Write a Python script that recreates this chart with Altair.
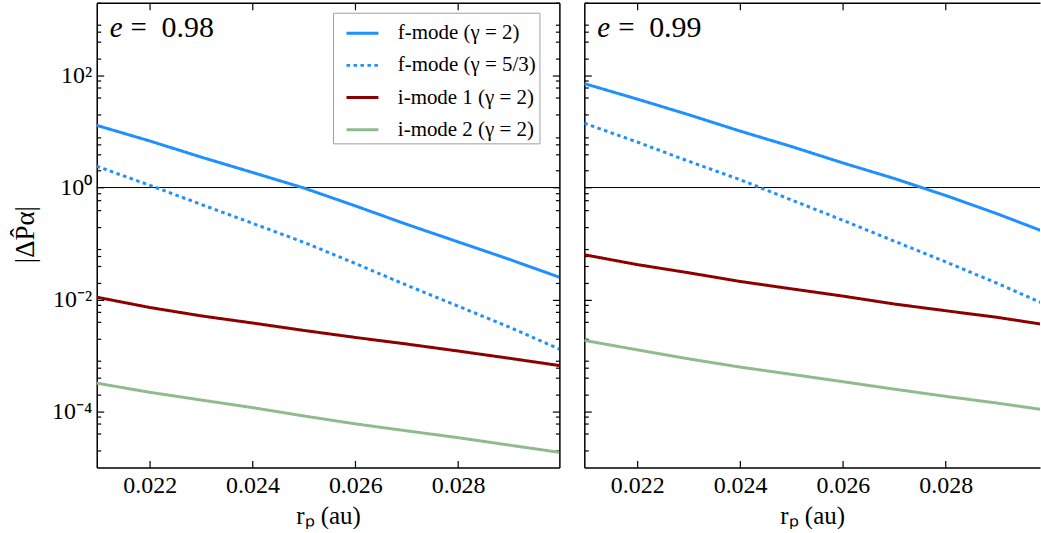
import altair as alt
import pandas as pd

FONT = "Liberation Serif"

# ---------------- data ----------------
r_p = [0.02097, 0.022, 0.023, 0.024, 0.025, 0.026, 0.027, 0.028, 0.029, 0.02997]

series_names = ["f-mode (γ = 2)", "f-mode (γ = 5/3)", "i-mode 1 (γ = 2)", "i-mode 2 (γ = 2)"]
series_colors = ["#1e90ff", "#1e90ff", "#8b0000", "#8fbc8f"]
series_dashes = [[1, 0], [3.5, 3.5], [1, 0], [1, 0]]

# e = 0.98 panel
e098_f2 = [12.9, 6.8, 3.5, 1.86, 0.98, 0.47, 0.22, 0.107, 0.052, 0.025]
e098_f53 = [2.4, 1.10, 0.50, 0.23, 0.105, 0.044, 0.018, 0.0076, 0.0032, 0.0013]
e098_i1 = [0.011, 0.0072, 0.0051, 0.0038, 0.0028, 0.0021, 0.0016, 0.0012, 0.00089, 0.00066]
e098_i2 = [3.2e-4, 2.2e-4, 1.6e-4, 1.17e-4, 8.3e-5, 6.0e-5, 4.5e-5, 3.4e-5, 2.5e-5, 1.86e-5]

# e = 0.99 panel
e099_f2 = [72, 38, 20, 10.2, 5.4, 2.75, 1.45, 0.72, 0.34, 0.155]
e099_f53 = [14.1, 6.5, 2.95, 1.38, 0.60, 0.26, 0.110, 0.047, 0.0195, 0.0079]
e099_i1 = [0.063, 0.042, 0.030, 0.021, 0.0155, 0.0115, 0.0083, 0.0063, 0.0048, 0.0035]
e099_i2 = [1.86e-3, 1.26e-3, 8.7e-4, 6.2e-4, 4.6e-4, 3.4e-4, 2.5e-4, 1.86e-4, 1.41e-4, 1.05e-4]

panel_e = ["0.98", "0.99"]
ref_level = [1.0]

x_tick_values = [0.022, 0.024, 0.026, 0.028]
y_major_values = [1e-4, 1e-2, 1.0, 1e2]
y_major_labels = ["10⁻⁴", "10⁻²", "10⁰", "10²"]
y_major_exps = [-4, -2, 0, 2]
y_minor_values = [m * 10.0 ** k for k in range(-5, 4) for m in (2, 4, 6, 8)
                  if 1e-5 <= m * 10.0 ** k <= 2e3]

Y_DOMAIN = [1e-5, 2e3]
X_MIN = 0.02097
X_MAX_LEFT = 0.02997
X_MAX_RIGHT = 0.029834
PANEL_H = 466
LEFT_W = 464
RIGHT_W = 457


def long_frame(cols):
    rows = []
    for name, vals in zip(series_names, cols):
        for r, v in zip(r_p, vals):
            rows.append({"r": r, "val": v, "series": name})
    return pd.DataFrame(rows)


def neg(n):
    return alt.ExprRef(expr=str(-n))


label_expr = " : ".join(
    f"abs(log(datum.value)/LN10 - ({e})) < 0.01 ? '{lab}'"
    for e, lab in zip(y_major_exps, y_major_labels)
) + " : ''"

AX = dict(labelFont=FONT, titleFont=FONT, labelColor="black", titleColor="black",
          domainColor="black", tickColor="black", grid=False)


def text_layer(s, x, size=29, italic=False):
    kw = dict(font=FONT, fontSize=size, align="left", baseline="alphabetic", color="black")
    if italic:
        kw["fontStyle"] = "italic"
    return alt.Chart(pd.DataFrame({"t": [s]})).mark_text(**kw).encode(
        x=alt.value(x), y=alt.value(34), text="t:N"
    )


def panel(df, e_text, width, xmax, first):
    xs = alt.Scale(domain=[X_MIN, xmax], nice=False, zero=False)
    ys = alt.Scale(type="log", domain=Y_DOMAIN, nice=False)
    cs = alt.Scale(domain=series_names, range=series_colors)
    ds = alt.Scale(domain=series_names, range=series_dashes)

    if first:
        leg = alt.Legend(
            orient="none", legendX=237, legendY=10, title=None,
            symbolType="stroke", symbolSize=1024, symbolStrokeWidth=3,
            labelFont=FONT, labelFontSize=21, labelColor="black",
            strokeColor="#a0a0a0", fillColor="white", padding=3,
            rowPadding=4.3, labelOffset=18, symbolOffset=9,
        )
        color_enc = alt.Color("series:N", scale=cs, legend=leg)
        dash_enc = alt.StrokeDash("series:N", scale=ds, legend=leg)
        y_axis = alt.Axis(
            orient="left", values=y_major_values, labelExpr=label_expr,
            tickSize=neg(7), labelPadding=12, labelFontSize=24,
            title="|ΔP\u0302α|", titleFontSize=27, titleAngle=270,
            titleX=-71, titleY=PANEL_H / 2 - 1, titleBaseline="middle",
            titleAlign="center", titleFontWeight="normal", **AX,
        )
    else:
        color_enc = alt.Color("series:N", scale=cs, legend=None)
        dash_enc = alt.StrokeDash("series:N", scale=ds, legend=None)
        y_axis = alt.Axis(orient="left", values=y_major_values, labels=False,
                          tickSize=neg(7), title=None, **AX)

    x_axis = alt.Axis(
        orient="bottom", values=x_tick_values, format=".3f", tickSize=neg(7),
        labelPadding=13, labelFontSize=24, title="rₚ (au)", titleFontSize=25,
        titleY=48, titleBaseline="middle", titleFontWeight="normal", **AX,
    )

    hline = alt.Chart(pd.DataFrame({"level": ref_level})).mark_rule(
        color="black", strokeWidth=1
    ).encode(y=alt.Y("level:Q", scale=ys, axis=None))

    lines = alt.Chart(df).mark_line(strokeWidth=3, clip=True).encode(
        x=alt.X("r:Q", scale=xs, axis=x_axis),
        y=alt.Y("val:Q", scale=ys, axis=y_axis),
        color=color_enc,
        strokeDash=dash_enc,
    )

    top_axis = alt.Axis(orient="top", values=x_tick_values, labels=False,
                        tickSize=neg(7), title=None, **AX)
    if first:
        right_axis = alt.Axis(orient="right", values=y_major_values, labels=False,
                              tickSize=neg(7), title=None, **AX)
        guide_y = alt.Y("val:Q", scale=ys, axis=right_axis)
    else:
        guide_y = alt.Y("val:Q", scale=ys, axis=None)
    guides = alt.Chart(df).mark_line(opacity=0, clip=True).encode(
        x=alt.X("r:Q", scale=xs, axis=top_axis), y=guide_y, detail="series:N"
    )

    minor_left = alt.Chart(df).mark_line(opacity=0, clip=True).encode(
        x=alt.X("r:Q", scale=xs, axis=None),
        y=alt.Y("val:Q", scale=ys, axis=alt.Axis(
            orient="left", values=y_minor_values, labels=False, domain=False,
            tickSize=neg(4), title=None, **AX)),
        detail="series:N",
    )
    layers = [hline, lines, guides, minor_left]
    if first:
        minor_right = alt.Chart(df).mark_line(opacity=0, clip=True).encode(
            x=alt.X("r:Q", scale=xs, axis=None),
            y=alt.Y("val:Q", scale=ys, axis=alt.Axis(
                orient="right", values=y_minor_values, labels=False, domain=False,
                tickSize=neg(4), title=None, **AX)),
            detail="series:N",
        )
        layers.append(minor_right)

    layers += [text_layer("e", 13, italic=True), text_layer("=", 34),
               text_layer(e_text, 65, size=30)]

    return alt.layer(*layers).resolve_axis(x="independent", y="independent").properties(
        width=width, height=PANEL_H
    )


left = panel(long_frame([e098_f2, e098_f53, e098_i1, e098_i2]), panel_e[0], LEFT_W, X_MAX_LEFT, True)
right = panel(long_frame([e099_f2, e099_f53, e099_i1, e099_i2]), panel_e[1], RIGHT_W, X_MAX_RIGHT, False)

chart = alt.hconcat(left, right, spacing=23).resolve_scale(
    color="independent", strokeDash="independent"
).configure(
    padding={"left": 12, "top": 1, "right": 0, "bottom": 0},
    background="white",
).configure_view(strokeWidth=0).configure_axis(
    domainWidth=1.5, tickWidth=1.2,
)

chart.save("out.html", embed_options={"renderer": "svg", "actions": False})
